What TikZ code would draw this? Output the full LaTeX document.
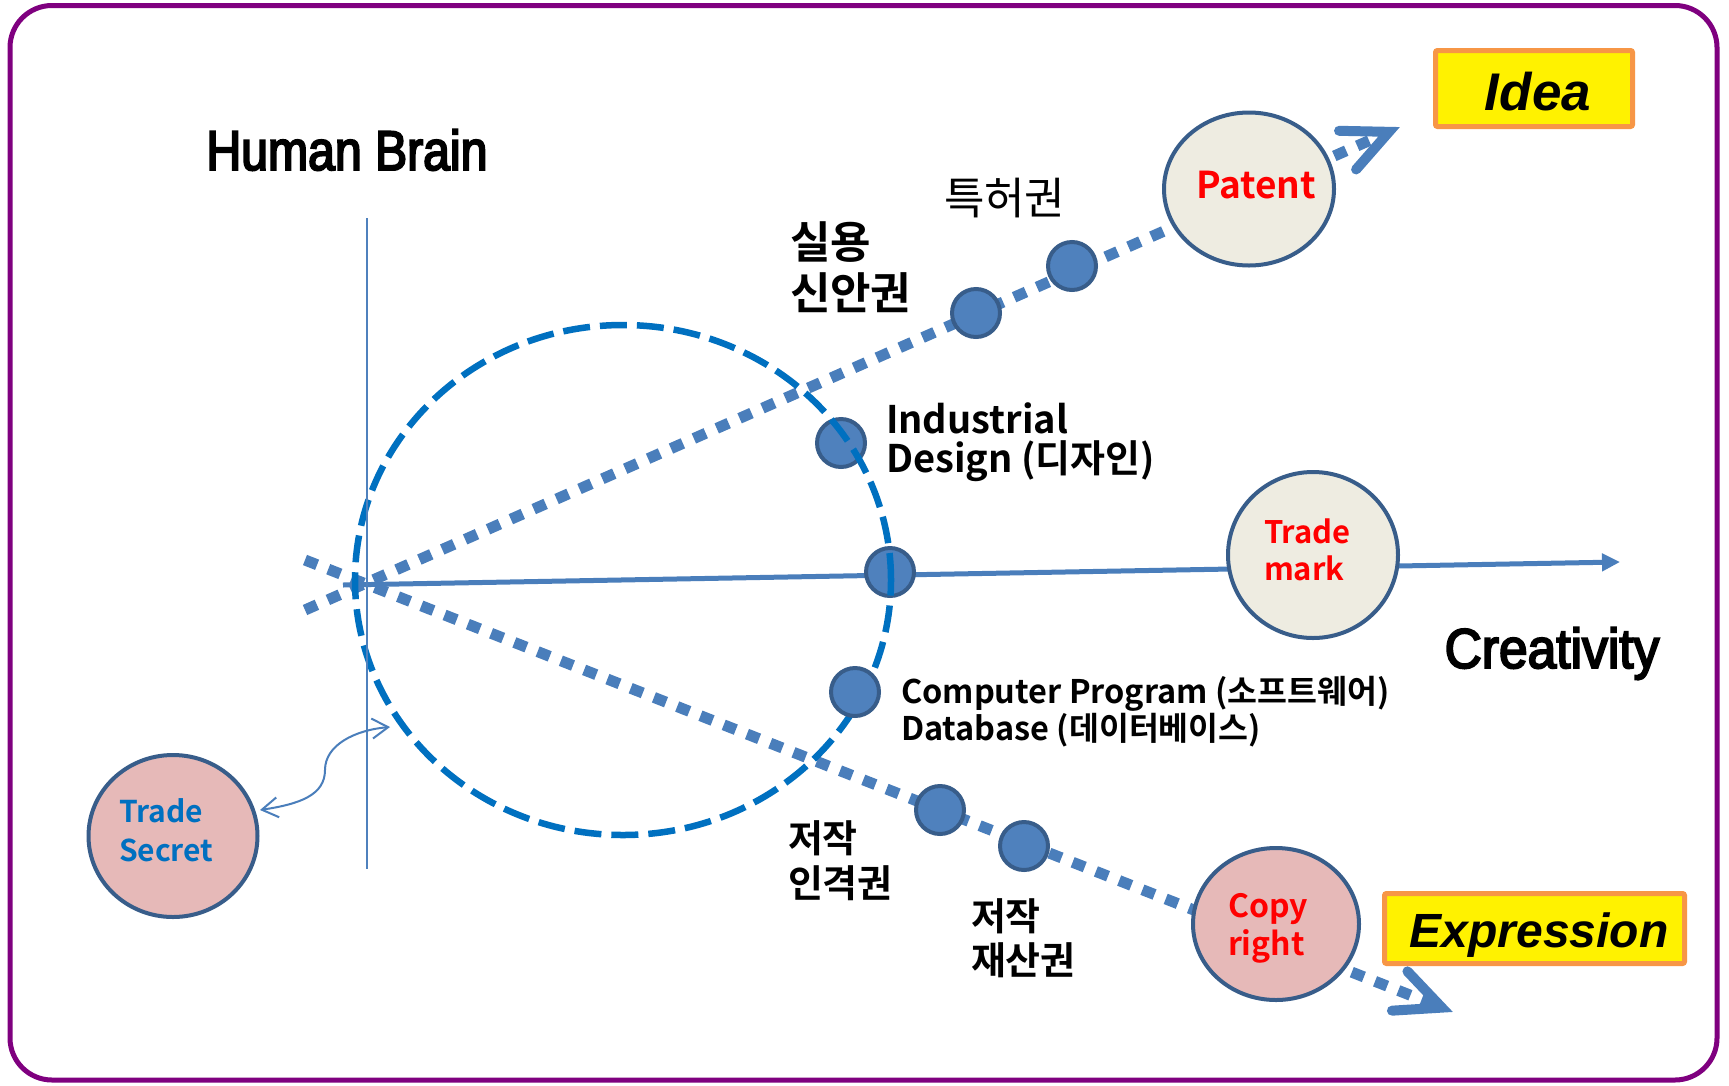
\documentclass[tikz,border=0pt]{standalone}
\usepackage{fontspec}
\usetikzlibrary{arrows.meta,calc,shapes.geometric}
\newfontfamily\kr{Noto Sans CJK KR}[BoldFont={Noto Sans CJK KR Bold}]
\newfontfamily\condA{Liberation Sans}[FakeStretch=0.86,FakeBold=3.5]
\newfontfamily\condB{Liberation Sans}[FakeStretch=0.92,FakeBold=3.5]
\newfontfamily\arl{Liberation Sans}
\definecolor{bord}{HTML}{7F007F}
\definecolor{lblue}{HTML}{4A7EBB}
\definecolor{cedge}{HTML}{385D8A}
\definecolor{cfill}{HTML}{4F81BD}
\definecolor{dashb}{HTML}{0070C0}
\definecolor{beige}{HTML}{EEECE1}
\definecolor{pinkf}{HTML}{E6B9B8}
\definecolor{boxor}{HTML}{F79646}
\begin{document}
\begin{tikzpicture}[x=1pt,y=-1pt,
  every node/.style={inner sep=0pt,outer sep=0pt},
  lbl/.style={anchor=base west},
  axisline/.style={draw=lblue,line width=5pt,-{Triangle[length=18pt,width=17pt]}},
  dotline/.style={draw=lblue,line width=11pt,dash pattern=on 13pt off 12pt},
  chev/.style={draw=lblue,line width=10pt,line cap=round,line join=miter},
  smallc/.style={circle,draw=cedge,fill=cfill,line width=4pt,minimum size=48pt},
  bigc/.style={ellipse,draw=cedge,line width=4pt},
  ybox/.style={draw=boxor,fill=yellow,line width=5pt,rounded corners=2pt},
  redt/.style={text=red,font=\kr\bfseries\fontsize{31}{36}\selectfont,anchor=base west},
  thinarrow/.style={draw=lblue,line width=2pt,{Straight Barb[length=16pt,width=20pt]}-{Straight Barb[length=16pt,width=20pt]}},
  vline/.style={draw=cfill,line width=2pt}
]
\fill[white] (0,0) rectangle (1729,1085);
\useasboundingbox (0,0) rectangle (1729,1085);
\draw[line width=5pt,draw=bord,rounded corners=42pt] (10,5.5) rectangle (1717,1080);

% key coordinates
\coordinate (O1) at (305,610);
\coordinate (IdeaTip) at (1400,127);
\coordinate (O2) at (305,560);
\coordinate (ExprTip) at (1453,1012);
\coordinate (AxS) at (343,585);
\coordinate (AxE) at (1620,562);

% axis and dotted lines
\draw[axisline] (AxS) -- (AxE);
\draw[dotline] (O1) -- ($(IdeaTip)!16pt!(O1)$);
\draw[dotline] (O2) -- ($(ExprTip)!16pt!(O2)$);
\coordinate (IdeaV) at ($(IdeaTip)!12pt!(O1)$);
\coordinate (ExprV) at ($(ExprTip)!12pt!(O2)$);
\draw[chev] ($(IdeaV)!50pt!25:(O1)$) -- (IdeaV) -- ($(IdeaV)!50pt!-25:(O1)$);
\draw[chev] ($(ExprV)!50pt!25:(O2)$) -- (ExprV) -- ($(ExprV)!50pt!-25:(O2)$);

% circles under the dashed brain outline
\node[smallc] (id) at (841,443) {};
\node[smallc] (ax) at (890,572) {};

% brain outline
\node[ellipse,draw=dashb,line width=6.5pt,dash pattern=on 27pt off 10pt,minimum width=536pt,minimum height=510pt] (brain) at (623,580) {};

% other small circles
\node[smallc] (cp) at (855,692) {};
\node[smallc] (u1) at (976,313) {};
\node[smallc] (u2) at (1072,266) {};
\node[smallc] (l1) at (940,810) {};
\node[smallc] (l2) at (1024,846) {};

% big circles
\node[bigc,fill=beige,minimum width=170pt,minimum height=153pt] (patent) at (1249,189) {};
\node[bigc,fill=beige,minimum width=170pt,minimum height=166pt] (tm) at (1313,555) {};
\node[bigc,fill=pinkf,minimum width=169pt,minimum height=162pt] (ts) at (173,836) {};
\node[bigc,fill=pinkf,minimum width=166pt,minimum height=152pt] (cr) at (1276,924) {};

% vertical line
\coordinate (vT) at (367,218);
\coordinate (vB) at (367,869);
\draw[vline] (vT) -- (vB);

% trade secret arrow
\coordinate (tsA) at (260,810);
\coordinate (tsB) at (390,727);
\draw[thinarrow] (tsA) .. controls (300,804) and (325,795) .. (325,770) .. controls (325,745) and (355,730) .. (tsB);

% boxes
\node[ybox,minimum width=197pt,minimum height=76pt] (idea) at (1534,88.5) {};
\node[anchor=base,font=\arl\bfseries\itshape\fontsize{53}{60}\selectfont] (ideat) at (1538,110) {Idea};
\node[ybox,minimum width=300pt,minimum height=70pt] (expr) at (1534.5,928.5) {};
\node[anchor=base,font=\arl\bfseries\itshape\fontsize{48}{56}\selectfont] (exprt) at (1539,947) {Expression};

% titles
\node[anchor=base,font=\condA\fontsize{56}{60}\selectfont] (hb) at (347,170) {Human Brain};
\node[anchor=base,font=\condB\fontsize{56}{60}\selectfont] (cre) at (1552,668) {Creativity};

% circle labels
\node[anchor=base,text=red,font=\kr\bfseries\fontsize{37}{40}\selectfont] (patt) at (1256,198) {Patent};
\node[redt] (tm1) at (1264,543) {Trade};
\node[redt] (tm2) at (1264,580) {mark};
\node[redt,text=dashb,font=\kr\bfseries\fontsize{30}{36}\selectfont] (ts1) at (119,822) {Trade};
\node[redt,text=dashb,font=\kr\bfseries\fontsize{30}{36}\selectfont] (ts2) at (119,861) {Secret};
\node[redt,font=\kr\bfseries\fontsize{32}{36}\selectfont] (cr1) at (1228,917) {Copy};
\node[redt,font=\kr\bfseries\fontsize{32}{36}\selectfont] (cr2) at (1228,955) {right};

% Korean labels
\node[lbl,font=\kr\fontsize{44}{48}\selectfont] (k1) at (944,214) {특허권};
\node[lbl,font=\kr\bfseries\fontsize{44}{48}\selectfont] (k2a) at (790,258) {실용};
\node[lbl,font=\kr\bfseries\fontsize{44}{48}\selectfont] (k2b) at (790,309) {신안권};
\node[lbl,font=\kr\bfseries\fontsize{38}{40}\selectfont] (d1) at (886,433) {Industrial};
\node[lbl,font=\kr\bfseries\fontsize{38}{40}\selectfont] (d2) at (886,472) {Design (디자인)};
\node[lbl,font=\kr\bfseries\fontsize{32.5}{36}\selectfont] (c1) at (901,703) {Computer Program (소프트웨어)};
\node[lbl,font=\kr\bfseries\fontsize{32.5}{36}\selectfont] (c2) at (901,740) {Database (데이터베이스)};
\node[lbl,font=\kr\bfseries\fontsize{38}{42}\selectfont] (j1a) at (788,852) {저작};
\node[lbl,font=\kr\bfseries\fontsize{38}{42}\selectfont] (j1b) at (788,897) {인격권};
\node[lbl,font=\kr\bfseries\fontsize{38}{42}\selectfont] (j2a) at (971,930) {저작};
\node[lbl,font=\kr\bfseries\fontsize{38}{42}\selectfont] (j2b) at (971,974) {재산권};
\end{tikzpicture}
\end{document}
